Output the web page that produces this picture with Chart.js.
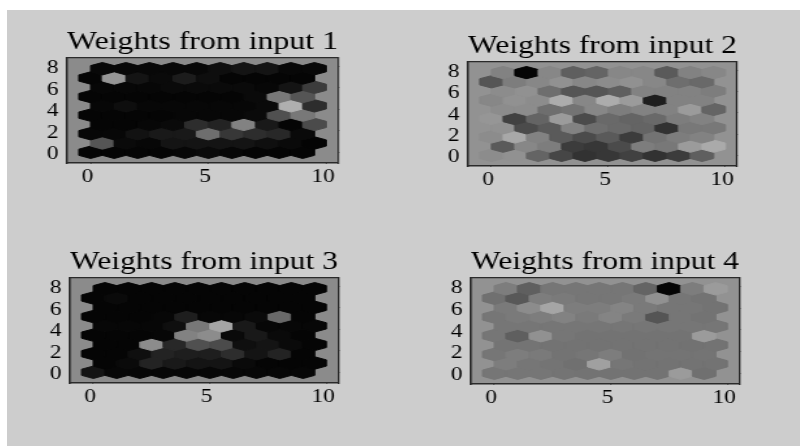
<!DOCTYPE html>
<html>
<head>
<meta charset="utf-8">
<title>Weights from input</title>
<script src="https://cdn.jsdelivr.net/npm/chart.js@4"></script>
<style>
  html, body { margin: 0; padding: 0; background: #fff; }
  #sheet { position: absolute; left: 7px; top: 10px; width: 793px; height: 436px; background: #cdcdcd; }
  canvas { position: absolute; transform-origin: 0 0; transform: scaleX(1.3); filter: blur(0.6px); }
</style>
</head>
<body>
<div id="sheet"></div>
<script>
const titles = ["Weights from input 1", "Weights from input 2", "Weights from input 3", "Weights from input 4"];
const xTicks = [0, 5, 10];
const yTicks = [0, 2, 4, 6, 8];
const columns = [0, 1, 2, 3, 4, 5, 6, 7, 8, 9];
const rows = [0, 1, 2, 3, 4, 5, 6, 7, 8, 9];

// grey level of each cell, bottom row first
const input1 = [
  [5, 5, 5, 5, 7, 10, 7, 5, 5, 5],
  [85, 10, 7, 20, 20, 20, 20, 15, 10, 4],
  [7, 7, 18, 25, 25, 110, 55, 45, 40, 10],
  [5, 5, 7, 10, 45, 35, 130, 25, 5, 75],
  [5, 5, 5, 5, 7, 7, 7, 10, 80, 120],
  [7, 14, 7, 7, 7, 7, 7, 10, 175, 45],
  [5, 5, 5, 5, 5, 5, 5, 10, 120, 85],
  [7, 7, 7, 10, 10, 10, 10, 7, 20, 60],
  [5, 150, 20, 10, 28, 14, 5, 5, 5, 5],
  [8, 8, 8, 8, 8, 14, 20, 20, 8, 8]
];
const input2 = [
  [140, 145, 100, 70, 50, 55, 65, 50, 60, 95],
  [90, 135, 125, 60, 55, 75, 125, 120, 155, 170],
  [140, 168, 130, 90, 75, 90, 60, 115, 125, 130],
  [145, 75, 90, 130, 110, 105, 100, 50, 120, 120],
  [150, 65, 100, 155, 75, 105, 100, 105, 125, 130],
  [140, 140, 110, 115, 135, 125, 130, 130, 155, 100],
  [135, 145, 140, 172, 135, 172, 155, 30, 130, 130],
  [140, 145, 110, 85, 85, 95, 130, 130, 130, 125],
  [85, 125, 135, 145, 135, 140, 145, 135, 110, 105],
  [130, 5, 135, 95, 100, 135, 135, 90, 130, 135]
];
const input3 = [
  [20, 7, 7, 7, 7, 7, 7, 7, 7, 7],
  [5, 10, 35, 25, 20, 20, 10, 5, 5, 5],
  [5, 5, 15, 35, 30, 30, 45, 20, 35, 5],
  [5, 5, 140, 40, 80, 75, 15, 20, 10, 5],
  [5, 5, 5, 7, 130, 140, 10, 25, 10, 5],
  [7, 7, 7, 15, 120, 165, 25, 7, 7, 7],
  [5, 5, 5, 7, 30, 7, 7, 10, 105, 5],
  [5, 5, 5, 5, 5, 5, 5, 5, 5, 5],
  [5, 10, 5, 5, 5, 5, 5, 5, 5, 5],
  [5, 5, 5, 5, 5, 5, 5, 5, 5, 5]
];
const input4 = [
  [118, 118, 118, 116, 115, 115, 115, 115, 155, 112],
  [125, 118, 116, 112, 160, 118, 115, 115, 115, 115],
  [118, 125, 122, 115, 118, 125, 114, 116, 116, 116],
  [116, 116, 115, 115, 115, 115, 115, 115, 114, 115],
  [118, 95, 145, 118, 115, 115, 115, 115, 115, 155],
  [118, 118, 118, 118, 118, 118, 118, 118, 118, 118],
  [118, 122, 125, 130, 122, 132, 122, 85, 118, 115],
  [122, 140, 165, 125, 125, 132, 122, 118, 118, 115],
  [112, 88, 125, 122, 118, 118, 122, 145, 118, 115],
  [125, 95, 118, 118, 118, 118, 100, 5, 125, 155]
];
const cells = [input1, input2, input3, input4];

// plot boxes on the page: left, right, top, bottom
const boxes = [
  [67, 338, 58, 163],
  [468, 737, 62, 166],
  [70, 338, 278, 383],
  [471, 739, 278, 384]
];
const frameFill = ["#8b8b8b", "#929292", "#8b8b8b", "#929292"];

const stretch = 1.3;
const titleHeight = 28;
const yAxisWidth = 30;
const xAxisHeight = 23;
const rowStep = Math.sqrt(3) / 2;

// draws each cell as a hexagon around the point the scales gave it
const hexPlugin = {
  id: "hexPlugin",
  beforeDatasetsDraw(chart) {
    const { ctx, scales, chartArea } = chart;
    ctx.save();
    ctx.fillStyle = chart.options.plugins.hexPlugin.plotFill;
    ctx.fillRect(chartArea.left, chartArea.top, chartArea.width, chartArea.height);
    const halfW = Math.abs(scales.x.getPixelForValue(0.5) - scales.x.getPixelForValue(0));
    const unitY = Math.abs(scales.y.getPixelForValue(1) - scales.y.getPixelForValue(0));
    const pts = chart.getDatasetMeta(0).data;
    chart.data.datasets[0].data.forEach((d, i) => {
      const px = pts[i].x;
      const py = pts[i].y;
      const r = unitY / Math.sqrt(3);
      const g = d.level;
      ctx.beginPath();
      ctx.moveTo(px, py - r);
      ctx.lineTo(px + halfW, py - r / 2);
      ctx.lineTo(px + halfW, py + r / 2);
      ctx.lineTo(px, py + r);
      ctx.lineTo(px - halfW, py + r / 2);
      ctx.lineTo(px - halfW, py - r / 2);
      ctx.closePath();
      ctx.fillStyle = `rgb(${g},${g},${g})`;
      ctx.strokeStyle = ctx.fillStyle;
      ctx.lineWidth = 1;
      ctx.fill();
      ctx.stroke();
    });
    ctx.restore();
  }
};

function axisOptions(position, min, max, tickList, showLabels) {
  const horizontal = position === "bottom" || position === "top";
  return {
    type: "linear",
    position: position,
    min: min,
    max: max,
    afterBuildTicks: scale => { scale.ticks = tickList.map(v => ({ value: v })); },
    afterFit: scale => {
      if (horizontal) scale.height = showLabels ? xAxisHeight : 0;
      else scale.width = showLabels ? yAxisWidth : 0;
    },
    border: { display: true, color: "#2a2a2a", width: showLabels ? 1.6 : 1.3, z: 2 },
    grid: { drawOnChartArea: false, tickLength: -2, color: "#222" },
    ticks: {
      display: showLabels,
      autoSkip: false,
      maxRotation: 0,
      padding: horizontal ? 5.5 : 8.5,
      labelOffset: horizontal ? -2.5 : 2,
      color: "#000",
      font: { family: "Liberation Serif", size: 18 }
    }
  };
}

titles.forEach((title, p) => {
  const [left, right, top, bottom] = boxes[p];
  const plotW = (right - left) / stretch;
  const plotH = bottom - top;

  const canvas = document.createElement("canvas");
  const width = Math.ceil(yAxisWidth + plotW + 6);
  canvas.width = width;
  canvas.height = titleHeight + plotH + xAxisHeight;
  canvas.style.left = (left - yAxisWidth * stretch) + "px";
  canvas.style.top = (top - titleHeight) + "px";
  document.body.appendChild(canvas);

  const points = [];
  rows.forEach(r => {
    columns.forEach(c => {
      points.push({ x: c + (r % 2 ? 0.5 : 0), y: r * rowStep, level: cells[p][r][c] });
    });
  });

  new Chart(canvas.getContext("2d"), {
    type: "scatter",
    data: { datasets: [{ data: points, pointRadius: 0 }] },
    plugins: [hexPlugin],
    options: {
      responsive: false,
      animation: false,
      layout: { padding: { right: width - yAxisWidth - plotW } },
      plugins: {
        legend: { display: false },
        tooltip: { enabled: false },
        hexPlugin: { plotFill: frameFill[p] },
        title: {
          display: true,
          fullSize: false,
          text: title,
          color: "#000",
          font: { family: "Liberation Serif", size: 24.8, weight: "normal", lineHeight: 1 },
          padding: { top: 0, bottom: 3.2 }
        }
      },
      scales: {
        x: axisOptions("bottom", -1, 10.5, xTicks, true),
        y: axisOptions("left", -1, 8.794, yTicks, true),
        x2: axisOptions("top", -1, 10.5, xTicks, false),
        y2: axisOptions("right", -1, 8.794, yTicks, false)
      }
    }
  });
});
</script>
</body>
</html>
